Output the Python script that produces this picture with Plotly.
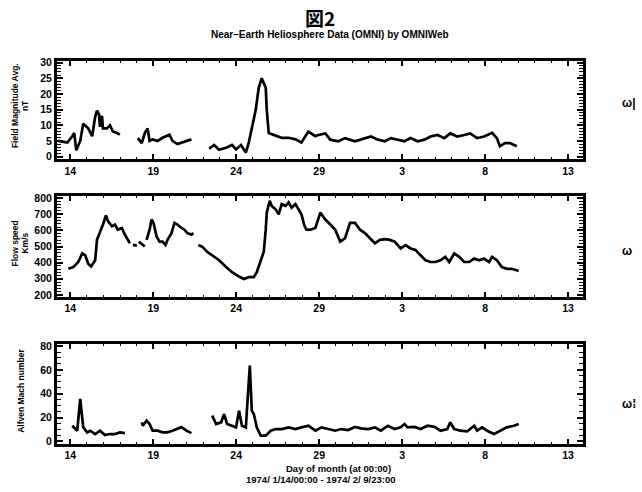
import plotly.graph_objects as go

# ---- data (x = day counted from Jan 0, 1974; Feb d = 31 + d) ----
bmag_seg1_x = [13.28, 13.82, 14.12, 14.24, 14.36, 14.6, 14.78, 15.08, 15.32, 15.5, 15.61, 15.73, 15.79, 15.91, 15.97, 16.21, 16.39, 16.57, 16.81, 16.99]
bmag_seg1_y = [5, 4.5, 6.5, 7.5, 2, 5, 10.5, 9, 6.5, 12.7, 14.7, 13.5, 9.5, 13, 9, 9, 10, 8, 7.5, 7]
bmag_seg2_x = [18.07, 18.31, 18.49, 18.66, 18.78, 18.96, 19.26, 19.56, 19.98, 20.16, 20.46, 20.76, 21.06, 21.3]
bmag_seg2_y = [5.9, 4.3, 7.5, 9, 5, 5.5, 5, 6, 7, 5, 4, 4.5, 5, 5.5]
bmag_seg3_x = [22.37, 22.67, 22.97, 23.39, 23.75, 23.99, 24.29, 24.58, 24.76, 24.94, 25.18, 25.36, 25.54, 25.78, 25.84, 25.96,
               26.38, 26.74, 27.16, 27.57, 27.93, 28.35, 28.77, 28.95, 29.37, 29.67, 30.15, 30.56, 31.16, 31.76, 32.12,
               32.54, 32.96, 33.32, 33.73, 34.15, 34.51, 34.93, 35.35, 35.71, 36.13, 36.54, 36.9, 37.32, 37.74, 38.1,
               38.52, 38.94, 39.42, 39.71, 39.89, 40.19, 40.49, 40.91]
bmag_seg3_y = [2.5, 3.7, 2.2, 2.8, 3.7, 2.3, 3.7, 1.3, 4.5, 9, 15, 22, 25, 22, 15, 7.5,
               6.8, 6, 6, 5.5, 4.5, 8, 6.5, 6.9, 7.4, 5.4, 4.9, 5.9, 4.9, 5.9, 6.4,
               5.4, 4.9, 5.9, 5.4, 4.9, 5.9, 4.9, 5.4, 6.4, 6.9, 5.9, 7.4, 6.4, 6.9, 7.4,
               5.9, 6.4, 7.6, 5.9, 3.3, 4.3, 4.3, 3.3]

speed_seg1_x = [13.88, 14.18, 14.48, 14.72, 14.9, 15.08, 15.26, 15.5, 15.61, 15.79, 15.97, 16.15, 16.27, 16.51, 16.69, 16.87, 17.11, 17.29, 17.59]
speed_seg1_y = [362, 372, 404, 457, 446, 394, 377, 415, 541, 583, 636, 693, 657, 625, 636, 604, 615, 573, 520]
speed_seg2_x = [17.77, 18.01]
speed_seg2_y = [510, 505]
speed_seg3_x = [18.13, 18.31, 18.49]
speed_seg3_y = [530, 515, 500]
speed_seg4_x = [18.6, 18.78, 18.9, 19.02, 19.2, 19.38, 19.56, 19.74, 19.86, 20.1, 20.28, 20.46, 20.7, 20.88, 21.06, 21.3, 21.42]
speed_seg4_y = [541, 604, 667, 646, 562, 530, 530, 509, 541, 583, 646, 636, 615, 604, 583, 573, 583]
speed_seg5_x = [21.71, 21.95, 22.25, 22.55, 22.97, 23.39, 23.75, 24.17, 24.46, 24.76, 25.06, 25.24, 25.48, 25.66, 25.78, 25.84,
                26.02, 26.14, 26.38, 26.56, 26.74, 26.98, 27.16, 27.34, 27.57, 27.75, 27.93, 28.11, 28.23, 28.47, 28.77,
                29.07, 29.37, 29.67, 29.97, 30.27, 30.56, 30.86, 31.16, 31.46, 31.76, 32.06, 32.36, 32.66, 32.96, 33.26,
                33.55, 33.91, 34.21, 34.51, 34.81, 35.11, 35.41, 35.71, 36.01, 36.31, 36.6, 36.84, 37.14, 37.44, 37.74,
                38.04, 38.34, 38.64, 38.94, 39.24, 39.42, 39.71, 40.01, 40.31, 40.61, 41.03]
speed_seg5_y = [509, 499, 467, 446, 415, 373, 341, 314, 299, 310, 310, 341, 415, 467, 604, 710,
                783, 751, 730, 699, 762, 751, 773, 741, 762, 735, 700, 630, 604, 604, 615,
                710, 667, 636, 604, 530, 551, 646, 646, 604, 583, 551, 520, 541, 545, 541,
                530, 488, 509, 488, 478, 446, 415, 404, 404, 415, 436, 404, 457, 436, 404,
                404, 425, 415, 425, 404, 436, 415, 373, 362, 362, 348]

mach_seg1_x = [14.12, 14.42, 14.6, 14.72, 14.78, 15.02, 15.2, 15.5, 15.79, 16.09, 16.39, 16.69, 16.99, 17.29]
mach_seg1_y = [13.2, 9, 35.6, 17.4, 12, 7.6, 9, 6.2, 9, 5.3, 6.2, 6.2, 7.6, 7]
mach_seg2_x = [18.31, 18.37, 18.6, 18.78, 18.96, 19.26, 19.56, 19.86, 20.16, 20.46, 20.7, 21.0, 21.3]
mach_seg2_y = [16, 13.2, 17.4, 14.6, 9, 9, 7.6, 7.6, 9, 10.4, 12, 9, 7]
mach_seg3_x = [22.55, 22.79, 23.09, 23.27, 23.45, 23.75, 23.99, 24.17, 24.35, 24.58, 24.82, 24.94, 25.06, 25.24, 25.48, 25.78,
               26.08, 26.38, 26.74, 27.16, 27.57, 27.93, 28.35, 28.77, 29.13, 29.55, 29.97, 30.33, 30.74, 31.16, 31.52,
               31.94, 32.36, 32.72, 33.14, 33.55, 33.91, 34.15, 34.33, 34.75, 35.11, 35.53, 35.95, 36.31, 36.72, 36.9,
               37.14, 37.5, 37.92, 38.34, 38.52, 38.82, 39.12, 39.54, 39.89, 40.31, 40.73, 41.03]
mach_seg3_y = [21.6, 14.6, 16, 23, 14.6, 13.2, 11.8, 25.8, 13.2, 11.8, 63.7, 25.8, 23, 11.8, 4.8, 4.8,
               9, 10.4, 10.4, 11.8, 10.4, 11.8, 13.2, 9, 11.8, 10.4, 9, 10.4, 9.6, 12.2, 11,
               10.4, 11.8, 9, 13.2, 10.4, 11.8, 14.6, 11.8, 12.2, 10.4, 13.2, 12.2, 9, 10.4, 16,
               10.4, 9, 8.4, 13.2, 9, 11.8, 9, 6.2, 9, 11.8, 13.2, 14.6]

tick_vals = [14, 19, 24, 29, 34, 39, 44]
tick_text = ["14", "19", "24", "29", "3", "8", "13"]

fig = go.Figure()
FONT = "Liberation Sans"
line = dict(color="black", width=2.7)

def add(xs, ys, ax):
    fig.add_trace(go.Scatter(x=xs, y=ys, mode="lines", line=line, showlegend=False, hoverinfo="skip",
                             xaxis="x" if ax == 1 else f"x{ax}", yaxis="y" if ax == 1 else f"y{ax}"))

add(bmag_seg1_x, bmag_seg1_y, 1)
add(bmag_seg2_x, bmag_seg2_y, 1)
add(bmag_seg3_x, bmag_seg3_y, 1)
add(speed_seg1_x, speed_seg1_y, 2)
add(speed_seg2_x, speed_seg2_y, 2)
add(speed_seg3_x, speed_seg3_y, 2)
add(speed_seg4_x, speed_seg4_y, 2)
add(speed_seg5_x, speed_seg5_y, 2)
add(mach_seg1_x, mach_seg1_y, 3)
add(mach_seg2_x, mach_seg2_y, 3)
add(mach_seg3_x, mach_seg3_y, 3)

W, H = 642.0, 492.0
ML, MR = 57, 59
PW = W - ML - MR

def dom(top, bottom):
    return [1 - bottom / H, 1 - top / H]

tickfont = dict(family=FONT, size=10.5, color="black", weight="bold")

def xaxis_cfg(anchor):
    return dict(domain=[0, 1], range=[13.2, 44.9], anchor=anchor, tickvals=tick_vals, ticktext=tick_text,
                ticks="inside", ticklen=5, tickwidth=1.5, tickcolor="black", showline=True, linecolor="black",
                linewidth=3, mirror="ticks", showgrid=False, zeroline=False, tickfont=tickfont,
                minor=dict(dtick=1, ticks="inside", ticklen=2, tickcolor="black", tickwidth=1, showgrid=False))

def yaxis_cfg(anchor, d, rng, dtick, mdtick):
    return dict(domain=d, range=rng, anchor=anchor, dtick=dtick, tick0=0, ticks="inside", ticklen=6,
                tickwidth=1.5, tickcolor="black", showline=True, linecolor="black", linewidth=3, mirror="ticks",
                showgrid=False, zeroline=False, tickfont=tickfont,
                minor=dict(dtick=mdtick, ticks="inside", ticklen=4, tickcolor="black", tickwidth=1, showgrid=False))

fig.update_layout(
    width=642, height=492, paper_bgcolor="white", plot_bgcolor="white",
    margin=dict(l=ML, r=MR, t=0, b=0),
    font=dict(family=FONT, color="black"),
    xaxis=xaxis_cfg("y"), xaxis2=xaxis_cfg("y2"), xaxis3=xaxis_cfg("y3"),
    yaxis=yaxis_cfg("x", dom(57, 157), [-0.8, 30.5], 5, 1),
    yaxis2=yaxis_cfg("x2", dom(195, 297), [190, 810], 100, 20),
    yaxis3=yaxis_cfg("x3", dom(345, 447), [-2, 82], 20, 5),
)

def ann(text, x, y, size, angle=0, weight="bold", family=FONT):
    fig.add_annotation(text=text, x=(x - ML) / PW, y=1 - y / H, xref="paper", yref="paper", showarrow=False,
                       textangle=angle, xanchor="center", yanchor="middle",
                       font=dict(family=family, size=size, color="black", weight=weight))

ann("図2", 320, 13, 19, family="Noto Sans CJK JP")
ann("Near\u2013Earth Heliosphere Data (OMNI) by OMNIWeb", 330, 30, 10)
ann("Field Magnitude Avg.", 15, 103, 8.5, angle=-90)
ann("nT", 25, 103, 8.5, angle=-90)
ann("Flow speed", 15, 243, 8.5, angle=-90)
ann("Km/s", 25, 243, 8.5, angle=-90)
ann("Alfven Mach number", 21, 393, 8.5, angle=-90)
ann("Day of month (at 00:00)", 338, 472, 9.5)
ann("1974/ 1/14/00:00 - 1974/ 2/ 9/23:00", 320, 483, 9.5)
ann("ω|", 629, 100, 12)
ann("ω", 627, 251, 12)
ann("ω⁞", 629, 406, 12)

fig.write_html("out.html", post_script="document.body.style.margin='0';",
               config={"displayModeBar": False})
